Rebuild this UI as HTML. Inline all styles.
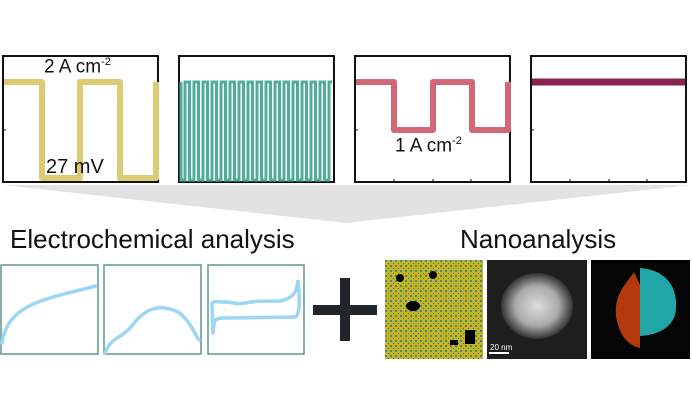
<!DOCTYPE html>
<html><head><style>
html,body{margin:0;padding:0;background:#fff;}
body{width:692px;height:415px;overflow:hidden;position:relative;font-family:"Liberation Sans",Arial,sans-serif;}
.t{position:absolute;color:#111;white-space:nowrap;}
</style></head><body>
<svg width="692" height="415" style="position:absolute;left:0;top:0">
<defs>
<radialGradient id="g1" cx="50%" cy="50%" r="50%"><stop offset="0" stop-color="#ddd"/><stop offset="0.6" stop-color="#aaa"/><stop offset="1" stop-color="#333"/></radialGradient>
<pattern id="yp" width="5" height="5" patternUnits="userSpaceOnUse"><rect width="5" height="5" fill="#c9b41c"/><rect x="0" y="0" width="2" height="2" fill="#3a8a90"/><rect x="3" y="3" width="1" height="1" fill="#2a6a70"/></pattern>
</defs>
<polygon points="3,185 690,185 346,223" fill="#e2e2e2"/>
<g fill="none" stroke="#111" stroke-width="2">
<rect x="3" y="56" width="155" height="126"/>
<rect x="179" y="56" width="155" height="126"/>
<rect x="355" y="56" width="155" height="126"/>
<rect x="531" y="56" width="155" height="126"/>
</g>
<g stroke="#111" stroke-width="1">
<line x1="3" y1="130" x2="6" y2="130"/><line x1="179" y1="130" x2="182" y2="130"/>
<line x1="355" y1="130" x2="358" y2="130"/><line x1="531" y1="130" x2="534" y2="130"/>
<line x1="394" y1="182" x2="394" y2="179"/><line x1="433" y1="182" x2="433" y2="179"/><line x1="471" y1="182" x2="471" y2="179"/>
<line x1="570" y1="182" x2="570" y2="179"/><line x1="609" y1="182" x2="609" y2="179"/><line x1="647" y1="182" x2="647" y2="179"/>
</g>
<polyline points="4,82 42,82 42,178 80,178 80,82 120,82 120,178 156,178 156,82" fill="none" stroke="#dccb73" stroke-width="6" stroke-linejoin="round"/>
<polyline fill="none" stroke="#4fae9b" stroke-width="3" points="181,82 181,180 185,180 185,82 189.5,82 189.5,180 194,180 194,82 198.5,82 198.5,180 203,180 203,82 207.5,82 207.5,180 212,180 212,82 216.5,82 216.5,180 221,180 221,82 225.5,82 225.5,180 230,180 230,82 234.5,82 234.5,180 239,180 239,82 243.5,82 243.5,180 248,180 248,82 252.5,82 252.5,180 257,180 257,82 261.5,82 261.5,180 266,180 266,82 270.5,82 270.5,180 275,180 275,82 279.5,82 279.5,180 284,180 284,82 288.5,82 288.5,180 293,180 293,82 297.5,82 297.5,180 302,180 302,82 306.5,82 306.5,180 311,180 311,82 315.5,82 315.5,180 320,180 320,82 324.5,82 324.5,180 329,180 329,82 332,82"/>
<polyline points="356,82 394,82 394,130 433,130 433,82 472,82 472,130 508,130 508,82" fill="none" stroke="#d06877" stroke-width="6" stroke-linejoin="round"/>
<line x1="532" y1="82" x2="685" y2="82" stroke="#8a2354" stroke-width="7"/>
<g fill="none" stroke="#5f958f" stroke-width="1.5">
<rect x="1" y="265" width="97" height="89"/>
<rect x="104" y="265" width="97" height="89"/>
<rect x="208" y="265" width="96" height="89"/>
</g>
<g fill="none" stroke="#9bd6f5" stroke-width="3.5" stroke-linecap="round">
<path d="M2,343 C8,305 40,300 96,286"/>
<path d="M105,353 C112,335 122,340 135,322 C150,304 165,306 178,312 C190,320 195,335 199,340"/>
<path d="M213,333 L212,305 C212,300 215,302 225,302 C235,302 235,305 245,303 C255,301 262,301 280,301 C295,298 297,290 298,280 C300,295 300,317 295,317 L225,318 C214,318 214,320 213,333"/>
</g>
<rect x="313" y="305" width="64" height="10" fill="#20262a"/>
<rect x="340" y="278" width="10" height="63" fill="#20262a"/>
<rect x="385" y="260" width="98" height="99" fill="url(#yp)"/>
<g fill="#000"><circle cx="433" cy="275" r="4"/><ellipse cx="413" cy="306" rx="7" ry="5"/><rect x="465" y="330" width="10" height="14"/><circle cx="400" cy="278" r="4"/><rect x="450" y="340" width="8" height="5"/></g>
<rect x="487" y="260" width="100" height="99" fill="#1e1e1e"/>
<ellipse cx="537" cy="306" rx="36" ry="33" fill="url(#g1)"/>
<rect x="489" y="352" width="20" height="2" fill="#fff"/>
<text x="490" y="350" font-size="8" fill="#fff" font-family="Liberation Sans">20 nm</text>
<rect x="591" y="260" width="99" height="99" fill="#050505"/>
<path d="M616,316 C614,295 625,285 634,272 L640,285 L640,348 C625,345 618,330 616,316Z" fill="#c8400f" opacity="0.9"/>
<path d="M640,268 C668,270 680,290 675,315 C670,330 655,335 640,336Z" fill="#25b8b8" opacity="0.9"/>
</svg>
<div class="t" style="left:44px;top:56px;font-size:19px">2 A cm<sup style="font-size:11px">-2</sup></div>
<div class="t" style="left:46px;top:156px;font-size:20px">27 mV</div>
<div class="t" style="left:395px;top:135px;font-size:19px">1 A cm<sup style="font-size:11px">-2</sup></div>
<div class="t" style="left:10px;top:224px;font-size:26px">Electrochemical analysis</div>
<div class="t" style="left:460px;top:224px;font-size:26px">Nanoanalysis</div>
</body></html>
